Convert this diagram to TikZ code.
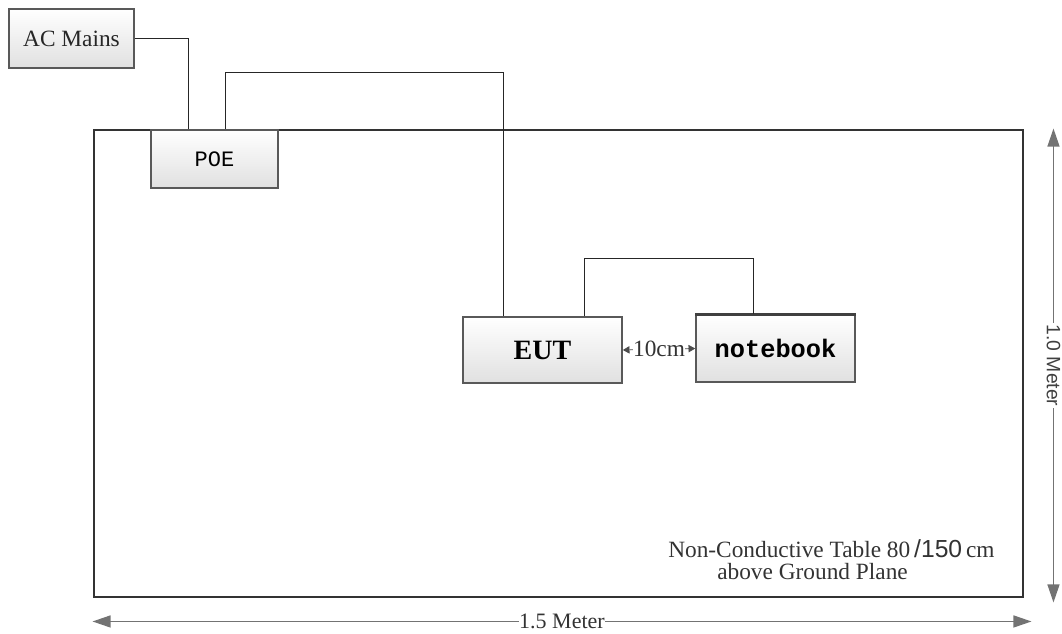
\documentclass[tikz,border=0pt]{standalone}
\usepackage{fontspec}
\setmainfont{Liberation Serif}
\setsansfont{Liberation Sans}
\setmonofont{Liberation Mono}
\usepackage{tikz}
\usetikzlibrary{arrows.meta,calc}

\tikzset{
    devbox/.style={draw=black!65, line width=1.2pt, top color=white, bottom color=black!12, inner sep=0pt},
    cable/.style={draw=black!85, line width=1pt},
    txt/.style={text=black!80, font=\fontsize{17.5}{20}\selectfont},
    dimline/.style={draw=black!55, line width=1pt, {Triangle[length=13.5pt,width=9pt]}-{Triangle[length=13.5pt,width=9pt]}}
}

\begin{document}
\begin{tikzpicture}[x=0.75pt,y=0.75pt,yscale=-1,xscale=1]
        \useasboundingbox (0,0) rectangle (1062,634);
        %Shape: Table
        \node (table) [draw=black!80, line width=2.2pt, minimum width=696.75pt, minimum height=350.25pt, inner sep=0pt] at (558.5,363.5) {};
        %Shape: Boxes
        \node (ac) [devbox, txt, text=black!85, minimum width=93.75pt, minimum height=44.25pt] at (71.5,38.5) {AC Mains};
        \node (poe) [devbox, minimum width=95.25pt, minimum height=43.5pt, font=\ttfamily\fontsize{16.5}{19}\selectfont] at (214.5,159) {POE};
        \node (eut) [devbox, minimum width=119.25pt, minimum height=49.5pt, font=\bfseries\fontsize{21}{24}\selectfont] at (542.5,350) {EUT};
        \node (nb) [devbox, minimum width=119.25pt, minimum height=50.25pt, font=\ttfamily\bfseries\fontsize{19}{22}\selectfont] at (775.5,348.5) {notebook};
        \draw [black!75, line width=2pt] (nb.north west) -- (nb.north east);
        %Straight Lines: cables
        \draw [cable] (ac.east) -| ([xshift=28.5pt]poe.north west);
        \draw [cable] ([xshift=56.25pt]poe.north west) -- ++(0,-57) -| ([xshift=30.75pt]eut.north west);
        \draw [cable] ([xshift=91.5pt]eut.north west) -- ++(0,-58) -| ([xshift=43.5pt]nb.north west);
        %Straight Lines: spacing
        \draw [black!70, line width=0.6pt, {Triangle[length=5pt,width=5.5pt]}-{Triangle[length=5pt,width=5.5pt]}] (eut.east) -- node (gap) [fill=white, inner sep=0pt, txt] {10cm} (nb.west);
        %Straight Lines: dimensions
        \draw [dimline] ([yshift=17.25pt]table.south west) -- node (wlab) [fill=white, inner sep=0pt, txt, font=\fontsize{16.5}{18}\selectfont] {1.5 Meter} ([xshift=5.25pt,yshift=17.25pt]table.south east);
        \draw [dimline] ([xshift=21.75pt]table.north east) -- node (hlab) [fill=white, inner sep=1pt, rotate=-90, text=black!75, font=\sffamily\fontsize{14.5}{17}\selectfont] {1.0 Meter} ([xshift=21.75pt,yshift=3pt]table.south east);
        % Text Node
        \node (note1) [anchor=west, inner sep=0pt, txt] at (668,549) {Non-Conductive Table 80\,{\sffamily\fontsize{18.5}{20}\selectfont/150}\,cm};
        \node (note2) [anchor=west, inner sep=0pt, txt] at (717,572) {above Ground Plane};
\end{tikzpicture}
\end{document}
